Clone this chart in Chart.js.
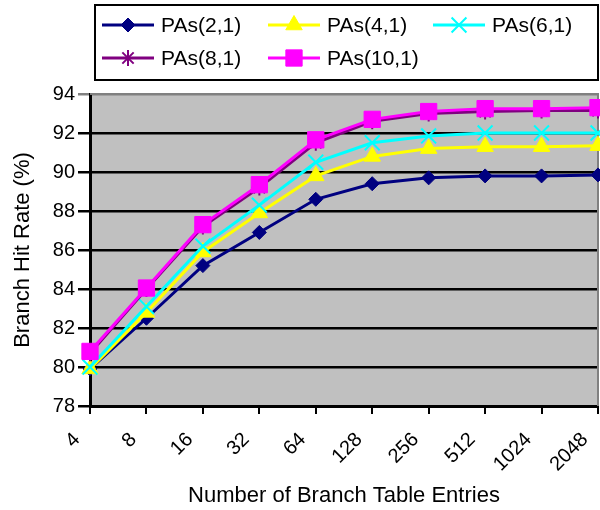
<!DOCTYPE html>
<html>
<head>
<meta charset="utf-8">
<title>Branch Hit Rate</title>
<script src="https://cdn.jsdelivr.net/npm/chart.js@4.4.1/dist/chart.umd.min.js"></script>
<style>
  html, body { margin: 0; padding: 0; background: #fff; }
  #chartBox { width: 600px; height: 510px; }
</style>
</head>
<body>
<div id="chartBox"><canvas id="hitChart"></canvas></div>
<script>
// table sizes on the x axis
const entries = ["4", "8", "16", "32", "64", "128", "256", "512", "1024", "2048"];

// hit rate (%) per predictor configuration
const pas21 = [79.9, 82.5, 85.2, 86.9, 88.6, 89.4, 89.7, 89.8, 89.8, 89.85];
const pas41 = [79.9, 82.8, 85.9, 87.9, 89.8, 90.8, 91.2, 91.3, 91.3, 91.35];
const pas61 = [80.0, 83.1, 86.2, 88.3, 90.5, 91.5, 91.85, 92.0, 92.0, 92.0];
const pas81 = [80.7, 84.0, 87.2, 89.2, 91.5, 92.6, 93.0, 93.1, 93.15, 93.15];
const pas101 = [80.8, 84.05, 87.3, 89.35, 91.65, 92.7, 93.1, 93.25, 93.25, 93.3];

const yMin = 78;
const yMax = 94;
const yStep = 2;

Chart.defaults.font.family = 'Arial, "Liberation Sans", sans-serif';
Chart.defaults.color = "#000";

function serie(label, data, color, style, radius, order, width) {
    return {
        label,
        data,
        borderColor: color,
        backgroundColor: color,
        borderWidth: 3,
        pointStyle: style,
        pointRadius: radius,
        pointHoverRadius: radius,
        pointBackgroundColor: color,
        pointBorderColor: color,
        pointBorderWidth: width || 1,
        tension: 0,
        clip: false,
        order // later series are painted on top
    };
}

// grey plot area
const plotBackground = {
    id: "plotBackground",
    beforeDraw(chart) {
        const { ctx, chartArea: a } = chart;
        ctx.save();
        ctx.fillStyle = "#C0C0C0";
        ctx.fillRect(a.left, a.top, a.right - a.left, a.bottom - a.top);
        ctx.restore();
    }
};

// grey top and right edges of the plot
const plotFrame = {
    id: "plotFrame",
    beforeDatasetsDraw(chart) {
        const { ctx, chartArea: a } = chart;
        ctx.save();
        ctx.strokeStyle = "#808080";
        ctx.lineWidth = 2;
        ctx.beginPath();
        ctx.moveTo(a.left, a.top);
        ctx.lineTo(a.right, a.top);
        ctx.lineTo(a.right, a.bottom);
        ctx.stroke();
        ctx.restore();
    }
};

// boxed legend with line + marker samples, three per row
const boxLegend = {
    id: "boxLegend",
    afterDraw(chart) {
        const ctx = chart.ctx;
        const cols = [102, 268, 433];
        const rows = [25, 58];
        ctx.save();
        ctx.fillStyle = "#fff";
        ctx.fillRect(95, 5, 503, 75);
        ctx.strokeStyle = "#000";
        ctx.lineWidth = 2;
        ctx.strokeRect(95, 5, 503, 75);

        chart.data.datasets.forEach((ds, i) => {
            const x = cols[i % 3];
            const y = rows[Math.floor(i / 3)];
            ctx.strokeStyle = ds.borderColor;
            ctx.lineWidth = ds.borderWidth;
            ctx.beginPath();
            ctx.moveTo(x, y);
            ctx.lineTo(x + 52, y);
            ctx.stroke();

            ctx.fillStyle = ds.pointBackgroundColor;
            ctx.strokeStyle = ds.pointBorderColor;
            ctx.lineWidth = ds.pointBorderWidth;
            Chart.helpers.drawPoint(ctx, {
                pointStyle: ds.pointStyle,
                radius: ds.pointRadius,
                rotation: 0,
                borderWidth: ds.pointBorderWidth
            }, x + 26, y);

            ctx.fillStyle = "#000";
            ctx.font = '21px Arial, "Liberation Sans", sans-serif';
            ctx.textAlign = "left";
            ctx.textBaseline = "middle";
            ctx.fillText(ds.label, x + 59, y + 1);
        });
        ctx.restore();
    }
};

new Chart(document.getElementById("hitChart"), {
    type: "line",
    data: {
        labels: entries,
        datasets: [
            serie("PAs(2,1)", pas21, "#000080", "rectRot", 7, 5),
            serie("PAs(4,1)", pas41, "#FFFF00", "triangle", 9.5, 4),
            serie("PAs(6,1)", pas61, "#00FFFF", "crossRot", 10.5, 3, 2),
            serie("PAs(8,1)", pas81, "#800080", "star", 8, 2, 2),
            serie("PAs(10,1)", pas101, "#FF00FF", "rect", 11.5, 1)
        ]
    },
    options: {
        responsive: true,
        maintainAspectRatio: false,
        animation: false,
        layout: {
            autoPadding: false, // markers may hang over the plot edges
            padding: { top: 94, right: 2, left: 0, bottom: 0 }
        },
        plugins: {
            legend: { display: false },
            tooltip: { enabled: false }
        },
        scales: {
            x: {
                offset: false,
                ticks: {
                    font: { size: 20 },
                    minRotation: 45,
                    maxRotation: 45,
                    autoSkip: false,
                    labelOffset: -13,
                    padding: 14
                },
                grid: { drawOnChartArea: false, color: "#000", lineWidth: 2, tickLength: 8 },
                border: { color: "#000", width: 3 },
                title: {
                    display: true,
                    text: "Number of Branch Table Entries",
                    font: { size: 22 },
                    padding: { top: 0, bottom: 1 }
                },
                afterFit: scale => {
                    scale.height = 104;
                    scale.paddingLeft = 0;
                    scale.paddingRight = 0;
                }
            },
            y: {
                min: yMin,
                max: yMax,
                ticks: { stepSize: yStep, font: { size: 20 }, padding: 3 },
                grid: {
                    color: c => (c.tick && c.tick.value === yMax ? "#808080" : "#000"),
                    lineWidth: 2.5,
                    tickLength: 12
                },
                border: { color: "#000", width: 3 },
                title: {
                    display: true,
                    text: "Branch Hit Rate (%)",
                    font: { size: 22 },
                    padding: { top: 10, bottom: 0 }
                },
                afterFit: scale => { scale.width = 90; }
            }
        }
    },
    plugins: [plotBackground, plotFrame, boxLegend]
});
</script>
</body>
</html>
